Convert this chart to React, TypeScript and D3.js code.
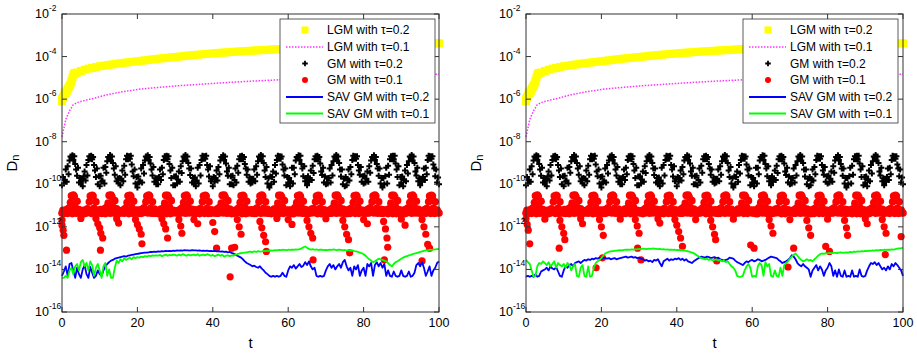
import * as d3 from "d3"

// ---- data ----
// LGM curves, sampled at t = 0, 1, ..., 100
const lgmTau02 = [
  1.0e-6, 1.9e-6, 4.2e-6, 1.4e-5, 1.8e-5, 2.1e-5, 2.4e-5, 2.7e-5, 2.9e-5, 3.2e-5,
  3.5e-5, 3.7e-5, 4.0e-5, 4.2e-5, 4.5e-5, 4.7e-5, 5.0e-5, 5.2e-5, 5.5e-5, 5.7e-5,
  6.0e-5, 6.3e-5, 6.7e-5, 7.0e-5, 7.4e-5, 7.7e-5, 8.1e-5, 8.4e-5, 8.8e-5, 9.1e-5,
  9.5e-5, 1.0e-4, 1.04e-4, 1.09e-4, 1.13e-4, 1.18e-4, 1.22e-4, 1.27e-4, 1.32e-4, 1.36e-4,
  1.41e-4, 1.45e-4, 1.5e-4, 1.55e-4, 1.59e-4, 1.64e-4, 1.69e-4, 1.73e-4, 1.78e-4, 1.82e-4,
  1.87e-4, 1.92e-4, 1.96e-4, 2.01e-4, 2.05e-4, 2.1e-4, 2.15e-4, 2.19e-4, 2.24e-4, 2.29e-4,
  2.33e-4, 2.38e-4, 2.42e-4, 2.47e-4, 2.52e-4, 2.56e-4, 2.61e-4, 2.65e-4, 2.7e-4, 2.75e-4,
  2.79e-4, 2.84e-4, 2.88e-4, 2.93e-4, 2.98e-4, 3.02e-4, 3.07e-4, 3.11e-4, 3.16e-4, 3.21e-4,
  3.25e-4, 3.3e-4, 3.34e-4, 3.39e-4, 3.44e-4, 3.48e-4, 3.53e-4, 3.57e-4, 3.62e-4, 3.67e-4,
  3.71e-4, 3.76e-4, 3.8e-4, 3.85e-4, 3.9e-4, 3.94e-4, 3.99e-4, 4.03e-4, 4.08e-4, 4.13e-4,
  4.2e-4,
]
// extra early samples of LGM tau=0.2 [t, value]
const lgmTau02Start = [
  [0, 8e-7], [0.25, 1.2e-6], [0.5, 1.5e-6], [0.75, 2.1e-6], [1.25, 2.4e-6], [1.5, 3e-6],
  [1.75, 3.5e-6], [2.25, 5e-6], [2.5, 7e-6], [2.75, 1e-5], [3.25, 1.6e-5], [3.5, 1.7e-5],
]

const lgmTau01 = [
  1.7e-8, 1.1e-7, 2.8e-7, 5.5e-7, 6.8e-7, 7.8e-7, 8.6e-7, 9.6e-7, 1.05e-6, 1.15e-6,
  1.3e-6, 1.45e-6, 1.6e-6, 1.75e-6, 1.9e-6, 2.05e-6, 2.2e-6, 2.35e-6, 2.5e-6, 2.65e-6,
  2.85e-6, 3.0e-6, 3.1e-6, 3.25e-6, 3.35e-6, 3.5e-6, 3.6e-6, 3.75e-6, 3.85e-6, 4.0e-6,
  4.1e-6, 4.25e-6, 4.4e-6, 4.5e-6, 4.65e-6, 4.8e-6, 4.9e-6, 5.05e-6, 5.2e-6, 5.3e-6,
  5.45e-6, 5.6e-6, 5.75e-6, 5.9e-6, 6.05e-6, 6.2e-6, 6.35e-6, 6.5e-6, 6.65e-6, 6.8e-6,
  6.95e-6, 7.1e-6, 7.25e-6, 7.4e-6, 7.55e-6, 7.7e-6, 7.85e-6, 8.0e-6, 8.15e-6, 8.3e-6,
  8.45e-6, 8.6e-6, 8.75e-6, 8.9e-6, 9.05e-6, 9.2e-6, 9.4e-6, 9.55e-6, 9.7e-6, 9.85e-6,
  1.0e-5, 1.02e-5, 1.035e-5, 1.05e-5, 1.065e-5, 1.08e-5, 1.1e-5, 1.115e-5, 1.13e-5, 1.145e-5,
  1.16e-5, 1.18e-5, 1.195e-5, 1.21e-5, 1.23e-5, 1.245e-5, 1.26e-5, 1.28e-5, 1.295e-5, 1.31e-5,
  1.33e-5, 1.345e-5, 1.36e-5, 1.38e-5, 1.395e-5, 1.41e-5, 1.43e-5, 1.445e-5, 1.46e-5, 1.48e-5,
  1.5e-5,
]

// GM tau=0.2, t = 0, 0.25, ..., 100, in units of 1e-10
const gmTau02 = [
  0.9, 2.2, 1.1, 1.6, 5, 1.3, 7, 3, 13, 20, 17, 23, 14, 21, 9, 5, 2.5, 6, 1.2, 2,
  1.2, 1.8, 0.8, 2.4, 4, 1.5, 8, 2.6, 14, 21, 16, 22, 15, 19, 8, 4.5, 2.2, 5.5, 1, 2.4,
  0.8, 2.5, 1.3, 1.5, 6, 1.1, 6.5, 3.5, 12, 19, 18, 24, 13, 20, 10, 5.5, 2.8, 7, 1.4, 1.8,
  1.1, 2, 0.9, 1.8, 4.5, 1.4, 7.5, 2.8, 15, 22, 15, 21, 16, 22, 8.5, 4, 2.4, 5, 1.1, 2.2,
  0.7, 2.3, 1.2, 1.4, 5.5, 1.2, 8, 3.2, 13, 20, 17, 23, 14, 19, 9.5, 5, 2.6, 6.5, 1.3, 1.9,
  1, 1.9, 1, 2.2, 5, 1.6, 6, 3, 14, 21, 16, 22, 15, 21, 9, 4.5, 2, 6, 0.9, 2.3,
  0.9, 2.4, 1.1, 1.7, 4, 1.3, 7, 3.4, 12, 20, 18, 24, 13, 20, 10, 5.5, 2.7, 5.5, 1.2, 2,
  1.2, 2.1, 0.8, 1.5, 6, 1.1, 8, 2.6, 14, 22, 16, 21, 16, 22, 8, 5, 2.3, 7, 1.4, 1.8,
  0.8, 2.2, 1.3, 2, 4.5, 1.5, 6.5, 3, 13, 19, 17, 23, 14, 20, 9.5, 4, 2.5, 6, 1, 2.4,
  1, 2.5, 0.9, 1.6, 5.5, 1.2, 7.5, 3.5, 15, 21, 15, 22, 15, 19, 9, 5.5, 2.8, 5, 1.3, 2.1,
  1.1, 1.8, 1.2, 1.8, 5, 1.4, 7, 2.8, 12, 20, 18, 24, 13, 21, 10, 4.5, 2.2, 6.5, 1.1, 1.9,
  0.7, 2.3, 1, 2.2, 4, 1.3, 8, 3.2, 14, 22, 16, 21, 16, 20, 8.5, 5, 2.6, 5.5, 0.9, 2.2,
  1.2, 2, 0.8, 1.4, 6, 1.1, 6, 3, 13, 19, 17, 23, 14, 22, 9, 5.5, 2.4, 7, 1.4, 2,
  0.9, 2.4, 1.3, 1.7, 4.5, 1.6, 7.5, 3.4, 15, 21, 15, 22, 15, 19, 9.5, 4, 2.7, 6, 1.2, 2.3,
  1, 1.9, 1.1, 2, 5.5, 1.2, 8, 2.6, 12, 20, 18, 24, 13, 20, 10, 5, 2.3, 5, 1, 1.8,
  0.8, 2.2, 0.9, 1.5, 5, 1.5, 6.5, 3, 14, 22, 16, 21, 16, 21, 8, 4.5, 2.8, 6.5, 1.3, 2.4,
  1.1, 2.5, 1.2, 1.8, 4, 1.3, 7, 3.5, 13, 19, 17, 23, 14, 19, 9, 5.5, 2.5, 5.5, 1.1, 2,
  0.7, 2, 1, 2.4, 6, 1.1, 7.5, 2.8, 15, 21, 15, 22, 15, 22, 9.5, 5, 2.2, 7, 0.9, 2.2,
  1.2, 2.3, 0.8, 1.6, 4.5, 1.4, 8, 3.2, 12, 20, 18, 24, 13, 20, 10, 4, 2.6, 6, 1.4, 1.9,
  0.9, 1.8, 1.3, 2.2, 5.5, 1.6, 6, 3, 14, 22, 16, 21, 16, 21, 8.5, 5.5, 2.4, 5, 1.2, 2.1,
  1,
]

// GM tau=0.1, t = 0, 0.25, ..., 100, in units of 1e-12
const gmTau01 = [
  4.5, 6, 4.2, 5.5, 4.6, 6.5, 4.3, 7.5, 5, 14, 29, 4.2, 31, 27, 8, 4.4, 16, 4.6, 6.5, 4.8,
  4.3, 5.5, 4.6, 6, 4.2, 6, 4.5, 7, 5.5, 15, 28, 4.3, 30, 28, 7.5, 4.2, 15, 4.8, 6, 4.5,
  4.6, 6.5, 4.3, 5, 4.4, 7, 4.2, 8, 4.8, 13, 30, 4.4, 31, 26, 8.5, 4.5, 17, 4.4, 7, 4.6,
  4.2, 5.8, 4.5, 5.5, 4.7, 6.2, 4.4, 7.2, 5.2, 14, 29, 4.2, 30, 27, 8, 4.3, 16, 4.7, 6.2, 4.9,
  4.5, 6.2, 4.3, 6, 4.3, 6.6, 4.6, 7.8, 5, 15, 28, 4.5, 31, 28, 7.5, 4.4, 15, 4.5, 6.8, 4.4,
  4.4, 6, 4.2, 5.2, 4.5, 6.8, 4.3, 7, 5.4, 13, 30, 4.2, 30, 26, 8.5, 4.2, 17, 4.6, 6, 4.7,
  4.6, 5.6, 4.5, 5.8, 4.2, 6.4, 4.5, 7.6, 4.8, 14, 29, 4.4, 31, 27, 8, 4.5, 16, 4.8, 6.6, 4.5,
  4.3, 6.4, 4.3, 5.5, 4.6, 6.5, 4.2, 7.3, 5.1, 15, 28, 4.3, 30, 28, 7.5, 4.3, 15, 4.4, 6.3, 4.8,
  4.5, 6, 4.6, 6, 4.4, 7, 4.4, 8, 5.3, 13, 30, 4.5, 31, 26, 8.5, 4.4, 17, 4.7, 6.9, 4.6,
  4.2, 5.8, 4.3, 5.4, 4.5, 6.3, 4.6, 7.4, 4.9, 14, 29, 4.2, 30, 27, 8, 4.2, 16, 4.5, 6.1, 4.9,
  4.6, 6.3, 4.4, 5.8, 4.3, 6.7, 4.3, 7.7, 5.2, 15, 28, 4.4, 31, 28, 7.5, 4.5, 15, 4.6, 6.7, 4.4,
  4.4, 5.7, 4.2, 5.5, 4.7, 6.9, 4.5, 7.1, 5, 13, 30, 4.3, 30, 26, 8.5, 4.3, 17, 4.8, 6.2, 4.7,
  4.5, 6.1, 4.5, 6, 4.2, 6.4, 4.2, 7.9, 5.4, 14, 29, 4.5, 31, 27, 8, 4.4, 16, 4.4, 6.5, 4.5,
  4.3, 6, 4.3, 5.3, 4.6, 6.8, 4.6, 7.2, 4.8, 15, 28, 4.2, 30, 28, 7.5, 4.2, 15, 4.7, 6.4, 4.8,
  4.6, 5.9, 4.6, 5.7, 4.4, 6.5, 4.4, 7.6, 5.1, 13, 30, 4.4, 31, 26, 8.5, 4.5, 17, 4.5, 6.8, 4.6,
  4.2, 6.2, 4.2, 5.6, 4.3, 6.6, 4.3, 7.4, 5.3, 14, 29, 4.3, 30, 27, 8, 4.3, 16, 4.6, 6.1, 4.9,
  4.5, 5.8, 4.4, 6, 4.5, 6.9, 4.5, 7.8, 4.9, 15, 28, 4.5, 31, 28, 7.5, 4.4, 15, 4.8, 6.6, 4.4,
  4.4, 6.4, 4.5, 5.4, 4.7, 6.3, 4.2, 7, 5.2, 13, 30, 4.2, 30, 26, 8.5, 4.2, 17, 4.4, 6.3, 4.7,
  4.6, 6, 4.3, 5.9, 4.2, 6.7, 4.6, 7.7, 5, 14, 29, 4.4, 31, 27, 8, 4.5, 16, 4.7, 6.7, 4.5,
  4.3, 5.9, 4.6, 5.5, 4.6, 6.5, 4.3, 7.3, 5.4, 15, 28, 4.3, 30, 28, 7.5, 4.3, 15, 4.5, 6.2, 4.8,
  4.5,
]

// GM tau=0.1 dips below the band [t, value in 1e-12]
const gmTau01DipsLeft = [
  [0, 2.1], [0, 1.2], [0.3, 0.7], [0.5, 0.4], [1.2, 0.08],
  [5, 2.5], [9, 2.5], [9.5, 1.4], [10, 0.9], [10.3, 0.5], [10.8, 0.3], [10.2, 0.08],
  [14.5, 2.4], [15, 1.5],
  [19.5, 2.2], [20, 1.3], [20.5, 0.8], [21, 0.45], [21.2, 0.16],
  [26.5, 2.4], [27, 1.4], [27.5, 0.8], [28, 0.3],
  [31, 2.2], [31.5, 1.1], [31.8, 0.5], [35, 2.2], [36, 1.4],
  [40, 1.6], [40.5, 0.6], [41, 0.1],
  [44.6, 0.0045], [45, 0.1], [45.8, 0.11],
  [46.5, 2.2], [47, 1.0], [47.5, 0.45],
  [52.5, 1.8], [53, 0.9], [53.5, 0.4], [54, 0.2], [54.2, 0.07],
  [57, 2.5], [60, 2.2], [61, 1.3],
  [65, 2.0], [65.5, 1.0], [66, 0.5], [66.5, 0.3], [66.6, 0.028],
  [70, 2.4], [74.5, 2.0], [75, 1.0], [75.5, 0.45], [76, 0.25], [76.3, 0.06],
  [80, 2.2], [81, 1.4],
  [85.3, 1.8], [85.8, 0.8], [86.2, 0.3], [86.4, 0.11], [85.5, 0.028],
  [90, 2.3], [91, 1.2],
  [95.5, 2.2], [96, 1.0], [96.5, 0.45], [97, 0.15], [97.5, 0.1], [95.5, 0.025],
]
const gmTau01DipsRight = [
  [0, 2.4], [0.3, 1.3], [0.6, 0.7], [1, 0.16], [5, 2.3],
  [9, 2.0], [9.5, 1.0], [10, 0.5], [10.3, 0.25], [8.8, 0.1], [14.5, 2.4], [15, 1.4],
  [19.5, 2.2], [20, 1.0], [20.5, 0.4], [20.3, 0.035], [18.6, 0.012], [25, 2.3],
  [29, 2.2], [29.5, 1.1], [30, 0.5], [29.6, 0.1], [30.5, 0.028], [35, 2.4], [35.5, 1.5],
  [39.5, 2.2], [40, 1.2], [40.5, 0.6], [41, 0.3], [41.5, 0.12], [45, 2.2],
  [49, 2.0], [49.5, 1.0], [50, 0.45], [50.3, 0.25], [50.6, 0.025], [55, 2.3],
  [59.6, 0.14], [60.5, 0.1],
  [64.5, 2.2], [65, 1.1], [65.5, 0.5],
  [69.5, 0.013], [71, 0.1], [70, 2.2],
  [74.5, 2.0], [75, 0.9], [75.5, 0.4],
  [79.5, 0.12], [80.5, 0.07], [80, 2.3],
  [84.5, 2.0], [85, 0.9], [85.3, 0.4], [90, 2.4], [90.5, 1.4],
  [94.5, 2.2], [95, 1.0], [95.5, 0.5], [95.3, 0.05],
  [99.5, 0.35],
]

// SAV GM, t = 0, 0.5, ..., 100, in units of 1e-15
const savTau02Left = [
  5, 8, 14, 5, 18, 20, 9, 4, 12, 6,
  4, 10, 16, 6, 4, 13, 7, 4, 5, 9,
  6, 5, 9, 14, 18, 22, 26, 28, 32, 34,
  36, 38, 40, 42, 40, 44, 46, 48, 50, 52,
  54, 56, 58, 60, 62, 62, 64, 66, 66, 68,
  66, 70, 68, 72, 70, 74, 72, 75, 73, 76,
  75, 78, 76, 78, 77, 80, 78, 79, 77, 80,
  78, 79, 76, 78, 75, 77, 74, 76, 73, 75,
  72, 74, 70, 72, 68, 70, 66, 68, 64, 66,
  60, 55, 50, 44, 40, 36, 30, 24, 20, 18,
  16, 14, 15, 13, 12, 14, 11, 9, 7, 6,
  5, 4.5, 5, 4.5, 5, 4.5, 5, 7, 5, 4.5,
  9, 14, 12, 16, 11, 14, 18, 13, 15, 22,
  16, 24, 14, 10, 12, 5, 4.5, 5, 4.5, 5,
  9, 14, 18, 12, 16, 10, 14, 18, 12, 22,
  28, 14, 9, 12, 5, 14, 10, 16, 5, 9,
  12, 5, 18, 14, 20, 5, 16, 22, 14, 20,
  12, 18, 5, 9, 5, 4.5, 8, 5, 4.5, 5,
  9, 5, 4.5, 5, 8, 4.5, 5, 7, 16, 20,
  14, 22, 12, 5, 8, 14, 5, 9, 12, 20,
  24,
]
const savTau01Left = [
  4, 4, 5, 4, 9, 12, 6, 14, 18, 9,
  22, 28, 14, 20, 9, 24, 16, 5, 12, 18,
  9, 4, 14, 20, 5, 10, 4, 4, 12, 26,
  20, 30, 24, 34, 28, 32, 36, 30, 38, 34,
  38, 36, 40, 38, 42, 40, 44, 42, 46, 44,
  46, 44, 48, 42, 46, 50, 44, 48, 46, 50,
  48, 44, 50, 46, 52, 48, 44, 50, 46, 48,
  50, 46, 52, 44, 48, 50, 46, 52, 48, 44,
  48, 42, 46, 50, 44, 48, 40, 44, 46, 42,
  46, 44, 50, 52, 56, 58, 60, 62, 64, 66,
  68, 64, 70, 66, 72, 68, 70, 74, 72, 76,
  74, 78, 76, 80, 78, 82, 80, 84, 82, 80,
  84, 82, 86, 84, 88, 86, 90, 96, 110, 120,
  104, 92, 86, 90, 84, 88, 82, 86, 84, 80,
  84, 80, 86, 82, 88, 84, 80, 86, 82, 78,
  82, 76, 80, 74, 78, 72, 70, 66, 62, 58,
  52, 44, 36, 30, 26, 22, 24, 28, 32, 30,
  28, 26, 24, 20, 16, 14, 18, 22, 24, 28,
  32, 36, 40, 42, 46, 48, 52, 56, 58, 62,
  66, 70, 74, 78, 80, 84, 82, 86, 88, 90,
  92,
]
const savTau02Right = [
  4.5, 5, 4.5, 5, 4.5, 6, 4.5, 5, 8, 9,
  10, 12, 9, 14, 11, 10, 13, 8, 5, 4.5,
  9, 14, 12, 16, 18, 14, 20, 22, 24, 20,
  24, 28, 26, 30, 28, 32, 30, 34, 32, 36,
  30, 36, 34, 32, 34, 30, 32, 34, 30, 32,
  34, 36, 38, 40, 36, 38, 40, 36, 38, 34,
  36, 32, 30, 26, 28, 24, 26, 22, 28, 26,
  30, 20, 14, 24, 28, 32, 26, 30, 28, 32,
  30, 34, 28, 32, 26, 30, 24, 22, 20, 24,
  28, 32, 36, 40, 38, 36, 40, 38, 34, 36,
  38, 34, 36, 30, 28, 26, 28, 30, 36, 34,
  32, 26, 22, 20, 18, 16, 20, 24, 22, 26,
  28, 24, 26, 30, 28, 24, 26, 28, 32, 36,
  40, 38, 36, 34, 28, 24, 20, 22, 24, 28,
  34, 46, 40, 30, 20, 16, 14, 18, 14, 12,
  10, 4.5, 9, 12, 16, 9, 14, 10, 5, 9,
  12, 20, 14, 5, 9, 4.5, 10, 5, 4.5, 9,
  4.5, 5, 4.5, 9, 4.5, 5, 4.5, 10, 5, 4.5,
  5, 9, 14, 20, 18, 22, 16, 20, 14, 10,
  12, 9, 14, 10, 18, 14, 20, 16, 12, 9,
  5,
]
const savTau01Right = [
  28, 22, 18, 9, 4.5, 5, 14, 20, 18, 24,
  20, 16, 22, 14, 18, 24, 12, 20, 16, 14,
  18, 12, 20, 16, 9, 14, 18, 5, 4.5, 12,
  16, 5, 4.5, 14, 4.5, 5, 12, 20, 24, 28,
  34, 44, 56, 62, 68, 70, 72, 74, 76, 78,
  80, 78, 82, 84, 86, 84, 88, 86, 90, 88,
  92, 90, 94, 92, 90, 94, 92, 96, 94, 92,
  90, 92, 88, 90, 86, 88, 84, 86, 82, 84,
  80, 82, 78, 80, 76, 74, 70, 66, 62, 58,
  50, 44, 38, 34, 32, 30, 32, 28, 30, 26,
  28, 30, 26, 28, 24, 26, 22, 24, 18, 14,
  12, 9, 5, 4.5, 4.5, 5, 9, 14, 18, 12,
  4.5, 5, 4.5, 14, 20, 16, 5, 22, 14, 18,
  5, 4.5, 9, 5, 4.5, 12, 5, 16, 20, 24,
  32, 40, 48, 56, 44, 34, 28, 24, 26, 30,
  26, 28, 24, 30, 36, 44, 52, 56, 54, 58,
  56, 60, 58, 62, 60, 58, 62, 64, 60, 62,
  64, 62, 66, 64, 68, 66, 70, 68, 72, 70,
  74, 72, 76, 74, 78, 76, 80, 78, 82, 80,
  84, 82, 86, 84, 88, 86, 90, 94, 98, 100,
  104,
]

const xTicks = [0, 20, 40, 60, 80, 100]
const yTickExps = [-16, -14, -12, -10, -8, -6, -4, -2]
const legendLabels = [
  "LGM with τ=0.2",
  "LGM with τ=0.1",
  "GM with τ=0.2",
  "GM with τ=0.1",
  "SAV GM with τ=0.2",
  "SAV GM with τ=0.1",
]

const tCoarse = d3.range(0, 101, 1)
const tFine = d3.range(0, 100.5, 0.5)
const tDense = d3.range(0, 100.25, 0.25)

const TOP = 14
const BOTTOM = 312
const FONT = "'Liberation Sans', Arial, sans-serif"
const AXIS = "#333"
const YELLOW = "#ffff00"
const MAGENTA = "#ff33ff"
const RED = "#ff0000"
const BLUE = "#0000ff"
const GREEN = "#00ff00"

function plus(cx: number, cy: number, s: number) {
  return `M${cx - s},${cy}H${cx + s}M${cx},${cy - s}V${cy + s}`
}

function Panel({ left, right, sav02, sav01, dips, legendX }: any) {
  const x = d3.scaleLinear().domain([0, 100]).range([left, right])
  const y = d3.scaleLog().domain([1e-16, 1e-2]).range([BOTTOM, TOP])

  const lineCoarse = d3
    .line<number>()
    .x((_, i) => x(tCoarse[i]))
    .y((d) => y(d))
  const lineSav = d3
    .line<number>()
    .x((_, i) => x(tFine[i]))
    .y((d) => y(d * 1e-15))

  const yellowPts = lgmTau02.map((d, i) => [tCoarse[i], d]).concat(lgmTau02Start)
  const blackPath = gmTau02.map((d, i) => plus(x(tDense[i]), y(d * 1e-10), 3)).join("")

  const rows = [30, 47, 63.5, 80, 97, 113.5]
  const lx0 = legendX + 6
  const lx1 = legendX + 43
  const lmx = legendX + 25

  return (
    <g fontFamily={FONT}>
      {/* data */}
      {yellowPts.map((d, i) => (
        <rect key={"y" + i} x={x(d[0]) - 4} y={y(d[1]) - 4} width={8} height={8} fill={YELLOW} />
      ))}
      <path d={lineCoarse(lgmTau01) || ""} fill="none" stroke={MAGENTA} strokeWidth={1.5} strokeDasharray="1.5 1.5" />
      <path d={blackPath} stroke="#000" strokeWidth={2} fill="none" />
      {gmTau01.map((d, i) => (
        <circle key={"r" + i} cx={x(tDense[i])} cy={y(d * 1e-12)} r={3.8} fill={RED} />
      ))}
      {dips.map((d: number[], i: number) => (
        <circle key={"d" + i} cx={x(d[0])} cy={y(d[1] * 1e-12)} r={3.6} fill={RED} />
      ))}
      <path d={lineSav(sav02) || ""} fill="none" stroke={BLUE} strokeWidth={1.8} strokeLinejoin="round" />
      <path d={lineSav(sav01) || ""} fill="none" stroke={GREEN} strokeWidth={1.8} strokeLinejoin="round" />

      {/* frame and ticks */}
      <rect x={left} y={TOP} width={right - left} height={BOTTOM - TOP} fill="none" stroke={AXIS} strokeWidth={1} />
      {xTicks.map((t) => (
        <g key={"xt" + t}>
          <line x1={x(t)} x2={x(t)} y1={BOTTOM} y2={BOTTOM - 5} stroke={AXIS} />
          <line x1={x(t)} x2={x(t)} y1={TOP} y2={TOP + 5} stroke={AXIS} />
          <text x={x(t)} y={BOTTOM + 15} textAnchor="middle" fontSize={12.5} fill="#000">
            {t}
          </text>
        </g>
      ))}
      {yTickExps.map((e) => {
        const yy = y(Math.pow(10, e))
        return (
          <g key={"yt" + e}>
            <line x1={left} x2={left + 5} y1={yy} y2={yy} stroke={AXIS} />
            <line x1={right} x2={right - 5} y1={yy} y2={yy} stroke={AXIS} />
            <text x={left - 13} y={yy + 4} textAnchor="end" fontSize={12.5} fill="#000">
              10
            </text>
            <text x={left - 13} y={yy - 3} fontSize={8.5} fill="#000">
              {e}
            </text>
          </g>
        )
      })}
      <text x={(left + right) / 2} y={348} textAnchor="middle" fontSize={15} fill="#000">
        t
      </text>
      <text transform={`translate(${left - 45},${163}) rotate(-90)`} textAnchor="middle" fontSize={15} fill="#000">
        D<tspan dy={2} fontSize={11}>n</tspan>
      </text>

      {/* legend */}
      <rect x={legendX} y={19} width={155} height={104} fill="#fff" stroke={AXIS} strokeWidth={0.8} />
      <rect x={lmx - 3.5} y={rows[0] - 3.5} width={7} height={7} fill={YELLOW} />
      <line x1={lx0} x2={lx1} y1={rows[1]} y2={rows[1]} stroke={MAGENTA} strokeWidth={1.5} strokeDasharray="1.5 1.5" />
      <path d={plus(lmx, rows[2], 2.8)} stroke="#000" strokeWidth={1.8} />
      <circle cx={lmx} cy={rows[3]} r={3} fill={RED} />
      <line x1={lx0} x2={lx1} y1={rows[4]} y2={rows[4]} stroke={BLUE} strokeWidth={2} />
      <line x1={lx0} x2={lx1} y1={rows[5]} y2={rows[5]} stroke={GREEN} strokeWidth={2} />
      {legendLabels.map((s, i) => (
        <text key={s} x={legendX + 47} y={rows[i] + 4} fontSize={12} fill="#000">
          {s}
        </text>
      ))}
    </g>
  )
}

export default function App() {
  return (
    <svg width={917} height={354} style={{ position: "absolute", left: 0, top: 0, background: "#fff" }}>
      <Panel left={62} right={439} sav02={savTau02Left} sav01={savTau01Left} dips={gmTau01DipsLeft} legendX={280} />
      <Panel left={526} right={903} sav02={savTau02Right} sav01={savTau01Right} dips={gmTau01DipsRight} legendX={743} />
    </svg>
  )
}
